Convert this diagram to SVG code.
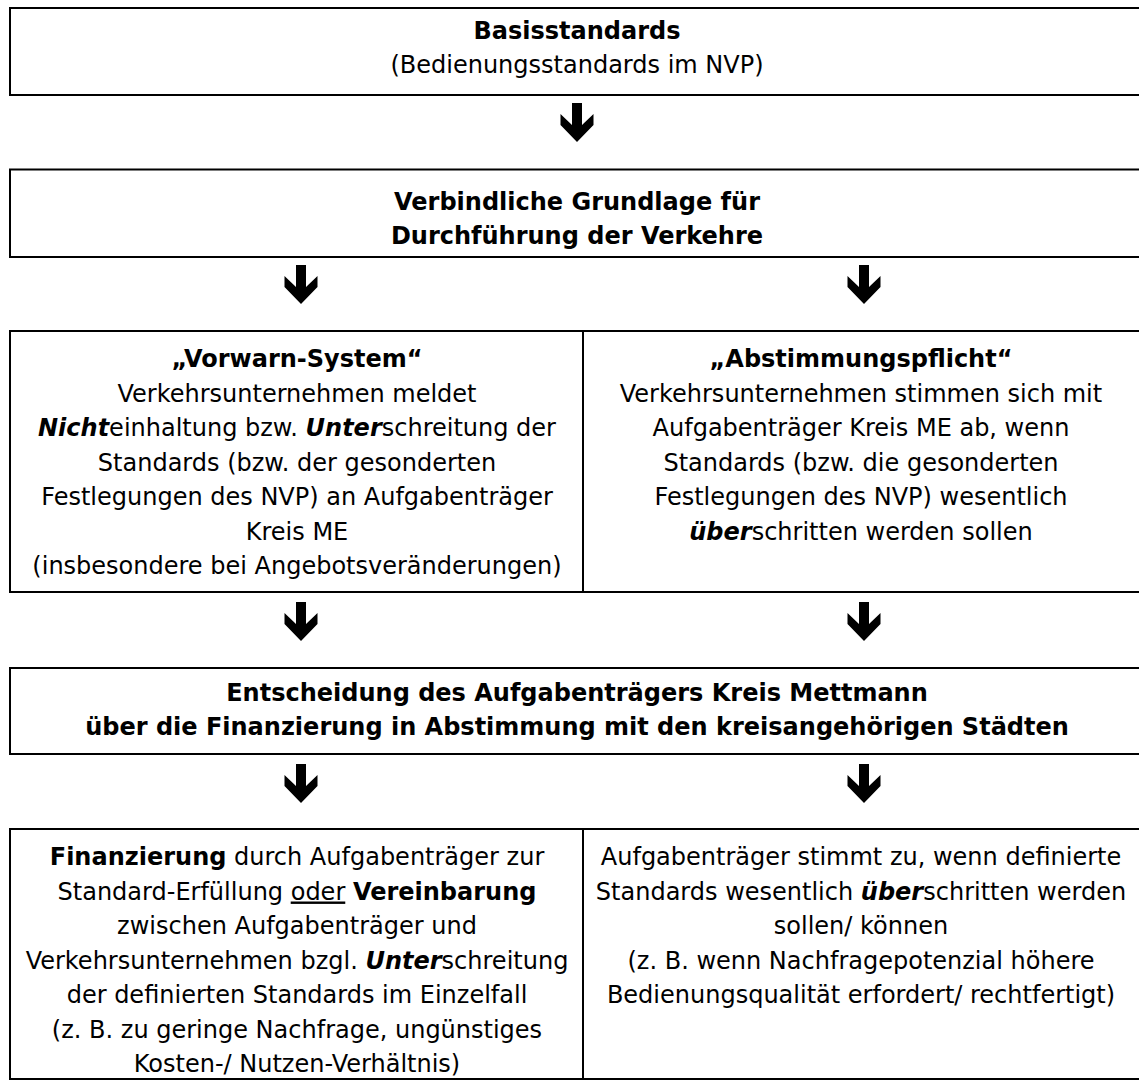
<svg xmlns="http://www.w3.org/2000/svg" width="1139" height="1086" viewBox="0 0 1139 1086">
<style>
.box{fill:#fff;stroke:#000;stroke-width:2}
.div{stroke:#000;stroke-width:2}
text{font-family:"DejaVu Sans","Verdana",sans-serif;font-size:24px;fill:#000;text-anchor:middle}
.b{font-weight:bold}
.bi{font-weight:bold;font-style:italic}
.u{text-decoration:underline}
</style>
<defs>
<path id="arr" d="M -5,0 H 5 V 22 L 16.5,11 V 22 L 0,39 L -16.5,22 V 11 L -5,22 Z" fill="#000"/>
</defs>
<rect width="1139" height="1086" fill="#fff"/>
<g id="connectors">
<use href="#arr" x="577" y="103"/>
<use href="#arr" x="301" y="265"/>
<use href="#arr" x="864" y="265"/>
<use href="#arr" x="301" y="602"/>
<use href="#arr" x="864" y="602"/>
<use href="#arr" x="301" y="764"/>
<use href="#arr" x="864" y="764"/>
</g>
<g id="n1">
<rect class="box" x="10" y="8" width="1135" height="87"/>
<text x="577" y="39" class="b">Basisstandards</text>
<text x="577" y="73">(Bedienungsstandards im NVP)</text>
</g>
<g id="n2">
<rect class="box" x="10" y="169.5" width="1135" height="87.5"/>
<text x="577" y="210" class="b">Verbindliche Grundlage für</text>
<text x="577" y="244" class="b">Durchführung der Verkehre</text>
</g>
<g id="n3">
<rect class="box" x="10" y="331" width="1135" height="261"/>
<line class="div" x1="583" y1="331" x2="583" y2="592"/>
</g>
<g id="n3a">
<text x="297" y="367" class="b">„Vorwarn-System“</text>
<text x="297" y="401.5">Verkehrsunternehmen meldet</text>
<text x="297" y="436"><tspan class="bi">Nicht</tspan>einhaltung bzw. <tspan class="bi">Unter</tspan>schreitung der</text>
<text x="297" y="470.5">Standards (bzw. der gesonderten</text>
<text x="297" y="505">Festlegungen des NVP) an Aufgabenträger</text>
<text x="297" y="539.5">Kreis ME</text>
<text x="297" y="574">(insbesondere bei Angebotsveränderungen)</text>
</g>
<g id="n3b">
<text x="861" y="367" class="b">„Abstimmungspflicht“</text>
<text x="861" y="401.5">Verkehrsunternehmen stimmen sich mit</text>
<text x="861" y="436">Aufgabenträger Kreis ME ab, wenn</text>
<text x="861" y="470.5">Standards (bzw. die gesonderten</text>
<text x="861" y="505">Festlegungen des NVP) wesentlich</text>
<text x="861" y="539.5"><tspan class="bi">über</tspan>schritten werden sollen</text>
</g>
<g id="n4">
<rect class="box" x="10" y="668" width="1135" height="86"/>
<text x="577" y="701" class="b">Entscheidung des Aufgabenträgers Kreis Mettmann</text>
<text x="577" y="735" class="b">über die Finanzierung in Abstimmung mit den kreisangehörigen Städten</text>
</g>
<g id="n5">
<rect class="box" x="10" y="829" width="1135" height="250"/>
<line class="div" x1="583" y1="829" x2="583" y2="1079"/>
</g>
<g id="n5a">
<text x="297" y="865"><tspan class="b">Finanzierung</tspan> durch Aufgabenträger zur</text>
<text x="297" y="899.5">Standard-Erfüllung <tspan class="u">oder</tspan> <tspan class="b">Vereinbarung</tspan></text>
<text x="297" y="934">zwischen Aufgabenträger und</text>
<text x="297" y="968.5">Verkehrsunternehmen bzgl. <tspan class="bi">Unter</tspan>schreitung</text>
<text x="297" y="1003">der definierten Standards im Einzelfall</text>
<text x="297" y="1037.5">(z. B. zu geringe Nachfrage, ungünstiges</text>
<text x="297" y="1072">Kosten-/ Nutzen-Verhältnis)</text>
</g>
<g id="n5b">
<text x="861" y="865">Aufgabenträger stimmt zu, wenn definierte</text>
<text x="861" y="899.5">Standards wesentlich <tspan class="bi">über</tspan>schritten werden</text>
<text x="861" y="934">sollen/ können</text>
<text x="861" y="968.5">(z. B. wenn Nachfragepotenzial höhere</text>
<text x="861" y="1003">Bedienungsqualität erfordert/ rechtfertigt)</text>
</g>
</svg>
